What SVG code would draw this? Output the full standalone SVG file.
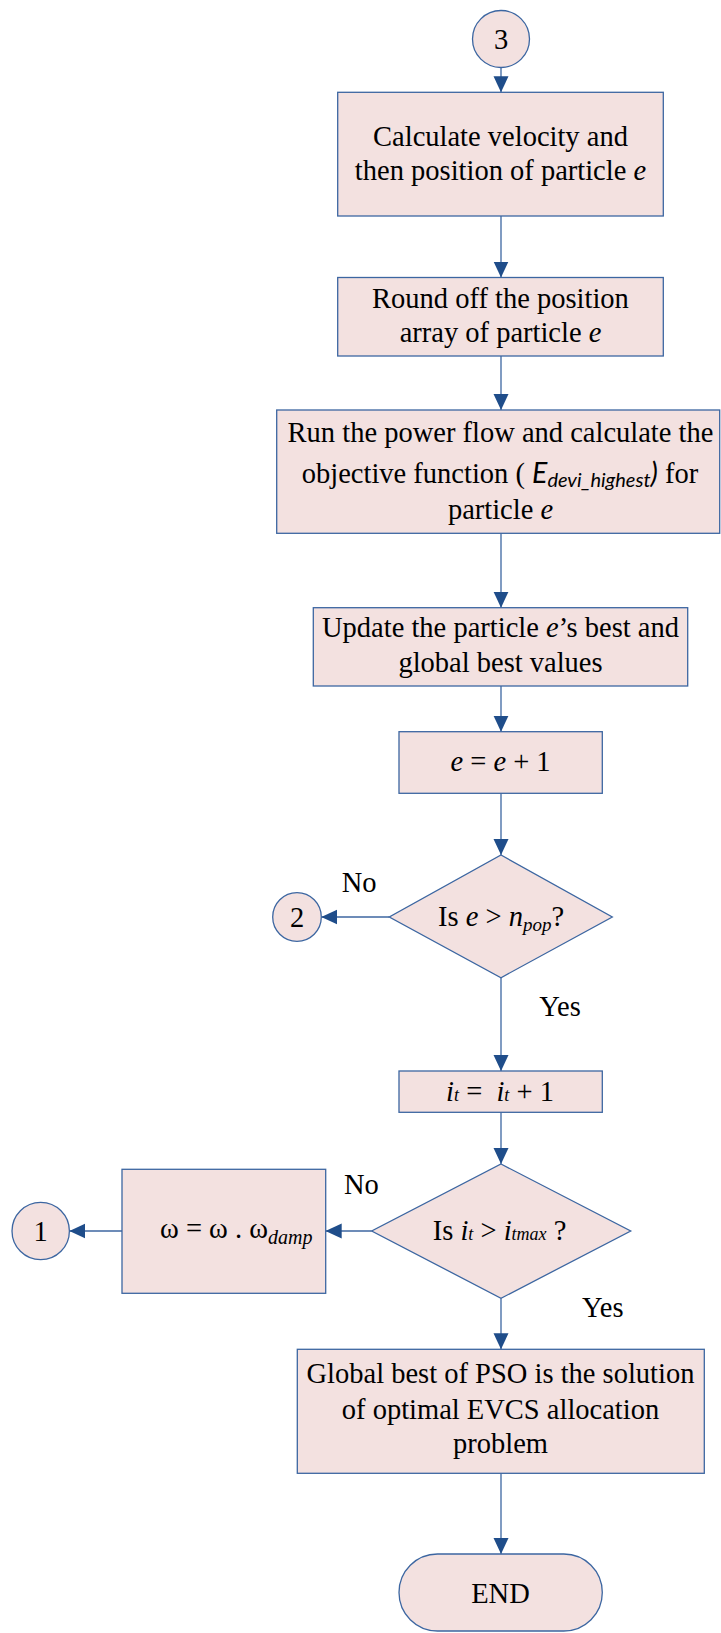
<svg xmlns="http://www.w3.org/2000/svg" width="721" height="1633" viewBox="0 0 721 1633">
<style>
.shape{fill:#F3E1E0;stroke:#3C66A1;stroke-width:1.3}
.conn{fill:none;stroke:#3C66A1;stroke-width:1.3}
text{font-family:"Liberation Serif","Times New Roman",serif;font-size:28.5px;fill:#000}
.c{text-anchor:middle}
.i{font-style:italic}
.cal{font-family:Lato,"Open Sans","Liberation Sans",sans-serif;font-style:italic}
</style>
<defs>
<marker id="ah" viewBox="0 0 16 16" markerWidth="16" markerHeight="16" refX="16" refY="8" orient="auto" markerUnits="userSpaceOnUse">
<path d="M0,0.5 L16,8 L0,15.5 Z" fill="#1F4D8A"/>
</marker>
</defs>
<rect width="721" height="1633" fill="#ffffff"/>

<g id="connectors">
<line class="conn" x1="501" y1="67.5" x2="501" y2="92.3" marker-end="url(#ah)"/>
<line class="conn" x1="501" y1="216" x2="501" y2="277.5" marker-end="url(#ah)"/>
<line class="conn" x1="501" y1="356" x2="501" y2="410" marker-end="url(#ah)"/>
<line class="conn" x1="501" y1="533.3" x2="501" y2="607.7" marker-end="url(#ah)"/>
<line class="conn" x1="501" y1="686" x2="501" y2="731.7" marker-end="url(#ah)"/>
<line class="conn" x1="501" y1="793.3" x2="501" y2="855" marker-end="url(#ah)"/>
<line class="conn" x1="389.3" y1="917" x2="321.3" y2="917" marker-end="url(#ah)"/>
<line class="conn" x1="501" y1="977.7" x2="501" y2="1071" marker-end="url(#ah)"/>
<line class="conn" x1="501" y1="1112.3" x2="501" y2="1164" marker-end="url(#ah)"/>
<line class="conn" x1="371.7" y1="1231" x2="325.7" y2="1231" marker-end="url(#ah)"/>
<line class="conn" x1="122" y1="1231" x2="69.4" y2="1231" marker-end="url(#ah)"/>
<line class="conn" x1="501" y1="1298.3" x2="501" y2="1349.3" marker-end="url(#ah)"/>
<line class="conn" x1="501" y1="1473.3" x2="501" y2="1554" marker-end="url(#ah)"/>
</g>

<g id="node-conn3">
<circle class="shape" cx="501" cy="39" r="28.5"/>
<text class="c" x="501" y="48.5">3</text>
</g>

<g id="node-velocity">
<rect class="shape" x="337.7" y="92.3" width="325.6" height="123.7"/>
<text class="c" x="500.5" y="145.7">Calculate velocity and</text>
<text class="c" x="500.5" y="180">then position of particle <tspan class="i">e</tspan></text>
</g>

<g id="node-round">
<rect class="shape" x="337.7" y="277.5" width="325.6" height="78.5"/>
<text class="c" x="500.5" y="308.3">Round off the position</text>
<text class="c" x="500.5" y="341.7">array of particle <tspan class="i">e</tspan></text>
</g>

<g id="node-powerflow">
<rect class="shape" x="276.7" y="410" width="443" height="123.3"/>
<text class="c" x="500.5" y="441.7">Run the power flow and calculate the</text>
<text class="c" x="500" y="482.5">objective function ( <tspan class="cal">E</tspan><tspan class="cal" font-size="20" dy="4.5">devi_highest</tspan><tspan class="cal" dy="-4.5">)</tspan> for</text>
<text class="c" x="500.5" y="519">particle <tspan class="i">e</tspan></text>
</g>

<g id="node-update">
<rect class="shape" x="313.3" y="607.7" width="374.4" height="78.3"/>
<text class="c" x="500.5" y="637.3">Update the particle <tspan class="i">e</tspan>’s best and</text>
<text class="c" x="500.5" y="672.3">global best values</text>
</g>

<g id="node-increment-e">
<rect class="shape" x="399" y="731.7" width="203.3" height="61.6"/>
<text class="c" x="500.5" y="770.7"><tspan class="i">e</tspan> = <tspan class="i">e</tspan> + 1</text>
</g>

<g id="node-decision-e">
<polygon class="shape" points="501,855 612.3,917 501,977.7 389.3,917"/>
<text class="c" x="501" y="926">Is <tspan class="i">e</tspan> &gt; <tspan class="i">n</tspan><tspan class="i" font-size="19" dy="5">pop</tspan><tspan dy="-5">?</tspan></text>
</g>

<g id="node-conn2">
<circle class="shape" cx="297" cy="917" r="24.3"/>
<text class="c" x="297" y="926.5">2</text>
</g>

<text x="341.7" y="892.3">No</text>
<text x="539.3" y="1016">Yes</text>

<g id="node-increment-it">
<rect class="shape" x="399" y="1071" width="203.3" height="41.3"/>
<text class="c" x="500" y="1100.7"><tspan class="i">i</tspan><tspan class="i" font-size="18">t</tspan> = <tspan dx="7" class="i">i</tspan><tspan class="i" font-size="18">t</tspan> + 1</text>
</g>

<g id="node-decision-it">
<polygon class="shape" points="501,1164 630.7,1231 501,1298.3 371.7,1231"/>
<text class="c" x="499.5" y="1240">Is <tspan class="i">i</tspan><tspan class="i" font-size="18">t</tspan> &gt; <tspan class="i">i</tspan><tspan class="i" font-size="18">tmax</tspan> ?</text>
</g>

<g id="node-omega">
<rect class="shape" x="122" y="1169.3" width="203.7" height="124"/>
<text x="160" y="1238.3">ω = ω . ω<tspan class="i" font-size="20" dy="6">damp</tspan></text>
</g>

<g id="node-conn1">
<circle class="shape" cx="40.7" cy="1231" r="28.7"/>
<text class="c" x="40.7" y="1240.5">1</text>
</g>

<text x="344" y="1194.3">No</text>
<text x="582" y="1316.7">Yes</text>

<g id="node-global">
<rect class="shape" x="297.3" y="1349.3" width="407" height="124"/>
<text class="c" x="500.5" y="1383.3">Global best of PSO is the solution</text>
<text class="c" x="500.5" y="1419.3">of optimal EVCS allocation</text>
<text class="c" x="500.5" y="1452.7">problem</text>
</g>

<g id="node-end">
<rect class="shape" x="399" y="1554" width="203.3" height="77" rx="38.5" ry="38.5"/>
<text class="c" x="500.5" y="1603.3">END</text>
</g>
</svg>
